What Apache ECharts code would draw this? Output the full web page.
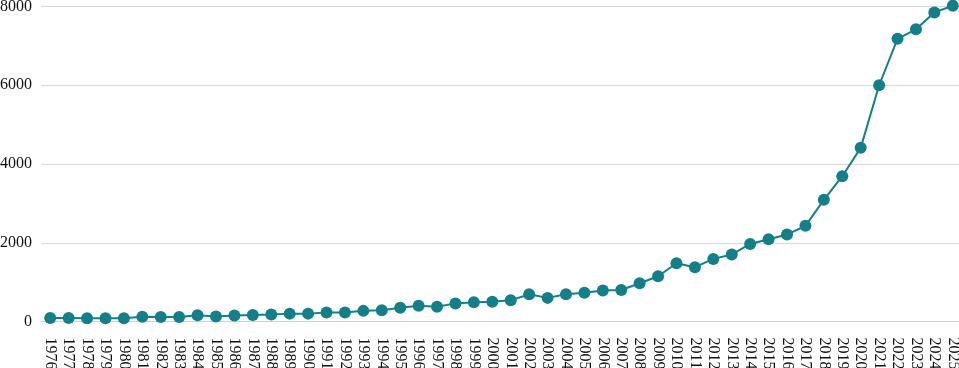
<!DOCTYPE html>
<html>
<head>
<meta charset="utf-8">
<script src="https://cdn.jsdelivr.net/npm/echarts@6/dist/echarts.min.js"></script>
<style>html,body{margin:0;padding:0;background:#fff;}#c{width:959px;height:368px;}</style>
</head>
<body>
<div id="c"></div>
<script>
var years = ['1976','1977','1978','1979','1980','1981','1982','1983','1984','1985','1986','1987','1988','1989','1990','1991','1992','1993','1994','1995','1996','1997','1998','1999','2000','2001','2002','2003','2004','2005','2006','2007','2008','2009','2010','2011','2012','2013','2014','2015','2016','2017','2018','2019','2020','2021','2022','2023','2024','2025'];
var values = [90,90,85,80,85,120,115,115,160,125,150,165,175,200,200,230,230,270,285,350,400,375,460,490,500,540,690,600,690,730,790,800,970,1150,1480,1380,1590,1700,1970,2090,2210,2430,3090,3690,4410,6000,7180,7420,7850,8020];
var yTicks = [0,2000,4000,6000,8000];
var FONT = "'Liberation Serif', 'Times New Roman', Times, serif";

var chart = echarts.init(document.getElementById('c'), null, {renderer:'canvas'});
chart.setOption({
  animation:false,
  backgroundColor:'#ffffff',
  grid:{left:41, top:6.5, width:921, height:315, containLabel:false, outerBoundsMode:'none'},
  xAxis:{
    type:'category',
    data:years,
    boundaryGap:true,
    axisLine:{show:true, lineStyle:{color:'#d0d0d0', width:1}},
    axisTick:{show:false},
    axisLabel:{interval:0, rotate:-90, margin:16, color:'#111', fontFamily:FONT, fontSize:16}
  },
  yAxis:{
    type:'value',
    min:yTicks[0], max:yTicks[yTicks.length-1], interval:2000,
    axisLine:{show:false},
    axisTick:{show:false},
    splitLine:{show:true, lineStyle:{color:'#d9d9d9', width:1}},
    axisLabel:{margin:9, color:'#111', fontFamily:FONT, fontSize:16, formatter:function(v){return String(v);}}
  },
  series:[{
    type:'line',
    data:values,
    clip:false,
    symbol:'circle',
    symbolSize:12,
    lineStyle:{color:'#138089', width:2},
    itemStyle:{color:'#138089'}
  }]
});
</script>
</body>
</html>
